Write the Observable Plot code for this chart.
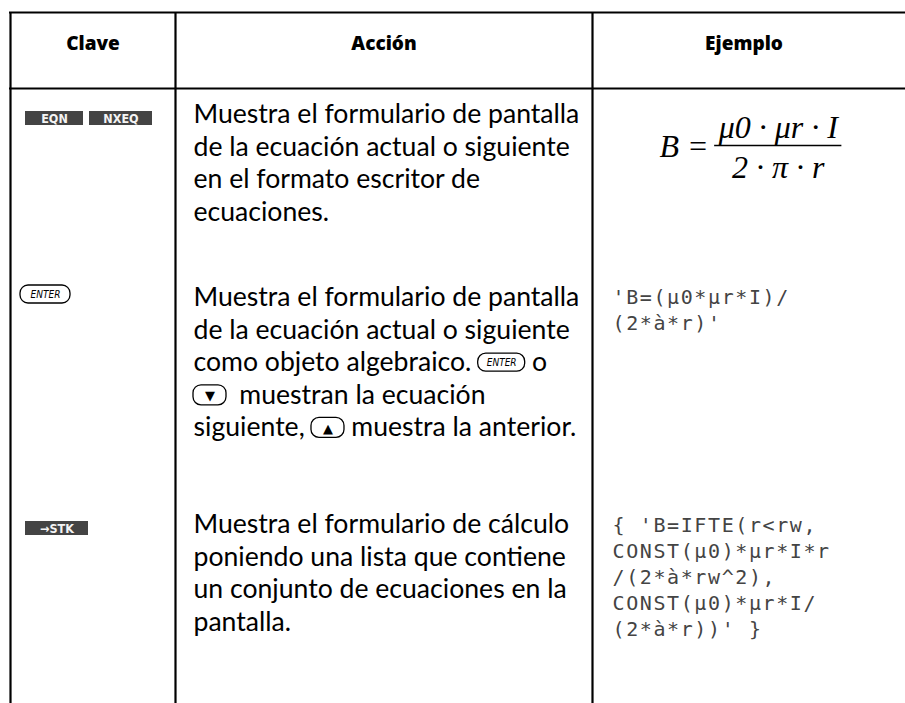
<!DOCTYPE html>
<html><head><meta charset="utf-8">
<script src="https://cdn.jsdelivr.net/npm/d3@7"></script>
<script src="https://cdn.jsdelivr.net/npm/@observablehq/plot@0.6"></script>
<style>
body{margin:0;background:#fff}
#chart svg{display:block;background:#fff}
g[font-family="DejaVu Sans Mono"] text{letter-spacing:1.6px}
</style>
</head><body><div id="chart"></div>
<script>
// ---- content ----
const columns = ["Clave", "Acción", "Ejemplo"];
const rowKeys = [["EQN", "NXEQ"], ["ENTER"], ["→STK"]];
const rowDescriptions = [
  ["Muestra el formulario de pantalla", "de la ecuación actual o siguiente", "en el formato escritor de", "ecuaciones."],
  ["Muestra el formulario de pantalla", "de la ecuación actual o siguiente", "como objeto algebraico. [ENTER] o", "[▼] muestran la ecuación", "siguiente, [▲] muestra la anterior."],
  ["Muestra el formulario de cálculo", "poniendo una lista que contiene", "un conjunto de ecuaciones en la", "pantalla."]
];
const formulaLeft = "B =";
const formulaNumerator = "μ0 · μr · I";
const formulaDenominator = "2 · π · r";
const rowExamples = [
  [],
  ["'B=(μ0*μr*I)/", "(2*à*r)'"],
  ["{ 'B=IFTE(r<rw,", "CONST(μ0)*μr*I*r", "/(2*à*rw^2),", "CONST(μ0)*μr*I/", "(2*à*r))' }"]
];

// ---- layout ----
const W = 905, H = 703;
const colEdges = [10, 175, 592, 895];
const headerTop = 12, headerBottom = 88, headerY = 43;
const rowFirstLine = [114, 297, 524];
const lineStep = 32.6;
const exampleFirstLine = [0, 297, 525];
const exampleStep = 26;
const textLeft = colEdges[1] + 18;
const exampleLeft = colEdges[2] + 20;

const bodyFamily = "Lato";
const headFamily = "Open Sans";
const monoFamily = "DejaVu Sans Mono";
const serifFamily = "Liberation Serif";

const ctx = document.createElement("canvas").getContext("2d");
function measure(t, size, family, weight = "normal", style = "normal") {
  ctx.font = `${style} ${weight} ${size}px "${family}"`;
  return ctx.measureText(t).width;
}
const bodySize = 100 * 386 / measure(rowDescriptions[0][0], 100, bodyFamily);

// header
const headers = columns.map((c, i) => ({text: c, x: (colEdges[i] + colEdges[i + 1]) / 2, y: headerY}));

// key cells (first column)
const softKeys = [], outlineKeys = [];
rowKeys.forEach((keys, r) => {
  let x = colEdges[0] + 15;
  keys.forEach(k => {
    if (k === "ENTER") {
      outlineKeys.push({label: k, x1: x - 5, x2: x + 45, y: rowFirstLine[r] - 3, h: 18});
    } else {
      const w = 43 + 5 * k.length;
      softKeys.push({label: k, x1: x, x2: x + w, y: rowFirstLine[r] + 4});
      x += w + 6;
    }
  });
});

// description text with inline keys
const descSegments = [];
rowDescriptions.forEach((lines, r) => lines.forEach((line, i) => {
  const y = rowFirstLine[r] + i * lineStep;
  let x = textLeft;
  line.split(/(\[[^\]]+\])/).filter(s => s.length).forEach(part => {
    const m = part.match(/^\[(.+)\]$/);
    if (m) {
      const label = m[1];
      const w = label === "ENTER" ? 47 : 33;
      outlineKeys.push({label, x1: x, x2: x + w, y, h: label === "ENTER" ? 18 : 20});
      x += w + (x === textLeft ? 6 : 0);
    } else {
      descSegments.push({text: part, x, y});
      x += measure(part, bodySize, bodyFamily);
    }
  });
}));

// formula
const fSize = 32;
const lhsW = measure(formulaLeft, fSize, serifFamily, "normal", "italic");
const numW = measure(formulaNumerator, fSize, serifFamily, "normal", "italic");
const barW = numW + 8;
const fStart = colEdges[2] + 67;
const barX1 = fStart + lhsW + 6, barX2 = barX1 + barW;
const formulaLhs = [{text: formulaLeft, x: fStart, y: 146}];
const formulaFrac = [
  {text: formulaNumerator, x: (barX1 + barX2) / 2, y: 127},
  {text: formulaDenominator, x: (barX1 + barX2) / 2, y: 167}
];
const fractionBar = [{x1: barX1, x2: barX2, y: 145}];

// pixel-font example lines
const exampleLines = [];
rowExamples.forEach((lines, r) => lines.forEach((t, i) => exampleLines.push({text: t, x: exampleLeft, y: exampleFirstLine[r] + i * exampleStep})));

const hRules = [headerTop, headerBottom];
const vRules = colEdges.slice(0, 3);

const plot = Plot.plot({
  width: W, height: H, margin: 0,
  x: {domain: [0, W], range: [0, W], axis: null},
  y: {domain: [0, H], range: [0, H], axis: null},
  marks: [
    Plot.ruleY(hRules, {y: d => d, x1: colEdges[0] - 1, x2: W, stroke: "black", strokeWidth: 2.2}),
    Plot.ruleX(vRules, {x: d => d, y1: headerTop, y2: H, stroke: "black", strokeWidth: 2.2}),
    Plot.text(headers, {x: "x", y: "y", text: "text", fontFamily: headFamily, fontWeight: "800", fontSize: 19, fill: "black"}),
    Plot.rect(softKeys, {x1: "x1", x2: "x2", y1: d => d.y - 7, y2: d => d.y + 7, fill: "#444"}),
    Plot.text(softKeys, {x: d => (d.x1 + d.x2) / 2, y: "y", text: "label", fill: "#f4f4f4", fontFamily: "DejaVu Sans Condensed", fontWeight: "bold", fontSize: 12.5}),
    Plot.rect(outlineKeys, {x1: "x1", x2: "x2", y1: d => d.y - d.h / 2, y2: d => d.y + d.h / 2, rx: 8, fill: "white", stroke: "black", strokeWidth: 1.3}),
    Plot.text(outlineKeys.filter(d => d.label === "ENTER"), {x: d => (d.x1 + d.x2) / 2, y: "y", text: "label", fontFamily: "DejaVu Sans Condensed", fontStyle: "italic", fontSize: 10, fill: "black"}),
    Plot.text(outlineKeys.filter(d => d.label !== "ENTER"), {x: d => (d.x1 + d.x2) / 2, y: d => d.y + 1, text: "label", fontFamily: "DejaVu Sans", fontSize: 13, fill: "black"}),
    Plot.text(descSegments, {x: "x", y: "y", text: "text", textAnchor: "start", fontFamily: bodyFamily, fontSize: bodySize, fill: "black"}),
    Plot.text(formulaLhs, {x: "x", y: "y", text: "text", textAnchor: "start", fontFamily: serifFamily, fontStyle: "italic", fontSize: fSize, fill: "black"}),
    Plot.text(formulaFrac, {x: "x", y: "y", text: "text", textAnchor: "middle", fontFamily: serifFamily, fontStyle: "italic", fontSize: fSize, fill: "black"}),
    Plot.ruleY(fractionBar, {y: "y", x1: "x1", x2: "x2", stroke: "black", strokeWidth: 1.4}),
    Plot.text(exampleLines, {x: "x", y: "y", text: "text", textAnchor: "start", fontFamily: monoFamily, fontSize: 20, fill: "#444"})
  ]
});
document.getElementById("chart").append(plot);
</script>
</body></html>
